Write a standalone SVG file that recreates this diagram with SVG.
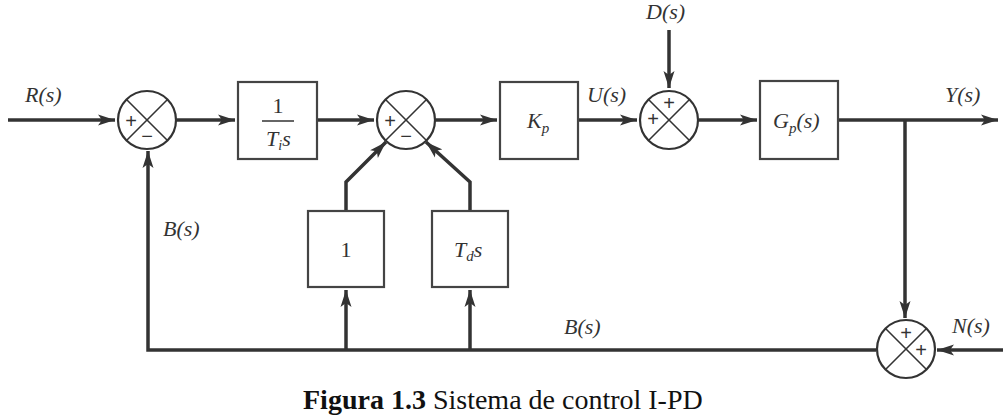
<svg xmlns="http://www.w3.org/2000/svg" width="1003" height="417" viewBox="0 0 1003 417">
<style>
.ln{stroke:#333;stroke-width:3.5;fill:none}
.bx{stroke:#444;stroke-width:2.2;fill:#fff}
.sj{stroke:#333;stroke-width:2.2;fill:#fff}
.x{stroke:#333;stroke-width:1.6}
.lb{font-family:"Liberation Serif","DejaVu Serif",serif;font-style:italic;font-size:22px;fill:#333}
.up{font-family:"Liberation Serif","DejaVu Serif",serif;font-size:22px;fill:#333}
.sg{font-family:"Liberation Sans",sans-serif;font-size:20px;fill:#333}
.cap{font-family:"Liberation Serif","DejaVu Serif",serif;font-size:28px;fill:#111}
</style>
<defs>
<marker id="ar" markerUnits="userSpaceOnUse" markerWidth="18" markerHeight="12" refX="17" refY="6" orient="auto">
<path d="M0,0.5 L17,6 L0,11.5 L4,6 Z" fill="#333"/>
</marker>
</defs>
<g id="connectors">
<line class="ln" x1="8" y1="120" x2="115" y2="120" marker-end="url(#ar)"/>
<line class="ln" x1="177" y1="120" x2="235" y2="120" marker-end="url(#ar)"/>
<line class="ln" x1="317" y1="120" x2="374" y2="120" marker-end="url(#ar)"/>
<line class="ln" x1="436" y1="120" x2="497" y2="120" marker-end="url(#ar)"/>
<line class="ln" x1="578" y1="120" x2="637" y2="120" marker-end="url(#ar)"/>
<line class="ln" x1="669" y1="30" x2="669" y2="88" marker-end="url(#ar)"/>
<line class="ln" x1="699" y1="120" x2="757" y2="120" marker-end="url(#ar)"/>
<line class="ln" x1="838" y1="120" x2="998" y2="120" marker-end="url(#ar)"/>
<line class="ln" x1="905" y1="120" x2="905" y2="318" marker-end="url(#ar)"/>
<line class="ln" x1="1003" y1="350" x2="937" y2="350" marker-end="url(#ar)"/>
<polyline class="ln" points="876,350 148,350 148,151" marker-end="url(#ar)"/>
<line class="ln" x1="346" y1="350" x2="346" y2="290" marker-end="url(#ar)"/>
<line class="ln" x1="470" y1="350" x2="470" y2="290" marker-end="url(#ar)"/>
<polyline class="ln" points="346,211 346,182 386,142" marker-end="url(#ar)"/>
<polyline class="ln" points="470,211 470,182 426,142" marker-end="url(#ar)"/>
</g>
<g id="sum1">
<circle class="sj" cx="147" cy="120" r="29"/>
<line class="x" x1="126.5" y1="99.5" x2="167.5" y2="140.5"/>
<line class="x" x1="167.5" y1="99.5" x2="126.5" y2="140.5"/>
<text class="sg" x="131" y="128" text-anchor="middle">+</text>
<text class="sg" x="147" y="143" text-anchor="middle">−</text>
</g>
<g id="block-integral">
<rect class="bx" x="238" y="82" width="79" height="77"/>
<text class="up" x="278" y="113" text-anchor="middle">1</text>
<line x1="262" y1="121" x2="294" y2="121" stroke="#333" stroke-width="1.5"/>
<text class="lb" x="266" y="146">T<tspan font-size="14" dy="4">i</tspan><tspan dy="-4">s</tspan></text>
</g>
<g id="sum2">
<circle class="sj" cx="406" cy="120" r="29"/>
<line class="x" x1="385.5" y1="99.5" x2="426.5" y2="140.5"/>
<line class="x" x1="426.5" y1="99.5" x2="385.5" y2="140.5"/>
<text class="sg" x="390" y="128" text-anchor="middle">+</text>
<text class="sg" x="406" y="143" text-anchor="middle">−</text>
</g>
<g id="block-kp">
<rect class="bx" x="500" y="82" width="78" height="77"/>
<text class="lb" x="527" y="128">K<tspan font-size="15" dy="5">p</tspan></text>
</g>
<g id="sum3">
<circle class="sj" cx="669" cy="120" r="29"/>
<line class="x" x1="648.5" y1="99.5" x2="689.5" y2="140.5"/>
<line class="x" x1="689.5" y1="99.5" x2="648.5" y2="140.5"/>
<text class="sg" x="669" y="110" text-anchor="middle">+</text>
<text class="sg" x="653" y="126" text-anchor="middle">+</text>
</g>
<g id="block-gp">
<rect class="bx" x="760" y="81" width="78" height="78"/>
<text class="lb" x="773" y="128">G<tspan font-size="15" dy="5">p</tspan><tspan dy="-5">(s)</tspan></text>
</g>
<g id="sum4">
<circle class="sj" cx="906" cy="349" r="29"/>
<line class="x" x1="885.5" y1="328.5" x2="926.5" y2="369.5"/>
<line class="x" x1="926.5" y1="328.5" x2="885.5" y2="369.5"/>
<text class="sg" x="906" y="340" text-anchor="middle">+</text>
<text class="sg" x="921" y="357" text-anchor="middle">+</text>
</g>
<g id="block-one">
<rect class="bx" x="308" y="211" width="76" height="76"/>
<text class="up" x="346" y="257" text-anchor="middle">1</text>
</g>
<g id="block-td">
<rect class="bx" x="432" y="211" width="76" height="76"/>
<text class="lb" x="454" y="257">T<tspan font-size="15" dy="4">d</tspan><tspan dy="-4">s</tspan></text>
</g>
<g id="labels">
<text class="lb" x="25" y="102">R(s)</text>
<text class="lb" x="587" y="102">U(s)</text>
<text class="lb" x="646" y="19">D(s)</text>
<text class="lb" x="945" y="102">Y(s)</text>
<text class="lb" x="163" y="236">B(s)</text>
<text class="lb" x="564" y="334">B(s)</text>
<text class="lb" x="952" y="333">N(s)</text>
</g>
<text class="cap" x="303" y="409"><tspan font-weight="bold">Figura 1.3</tspan> Sistema de control I-PD</text>
</svg>
